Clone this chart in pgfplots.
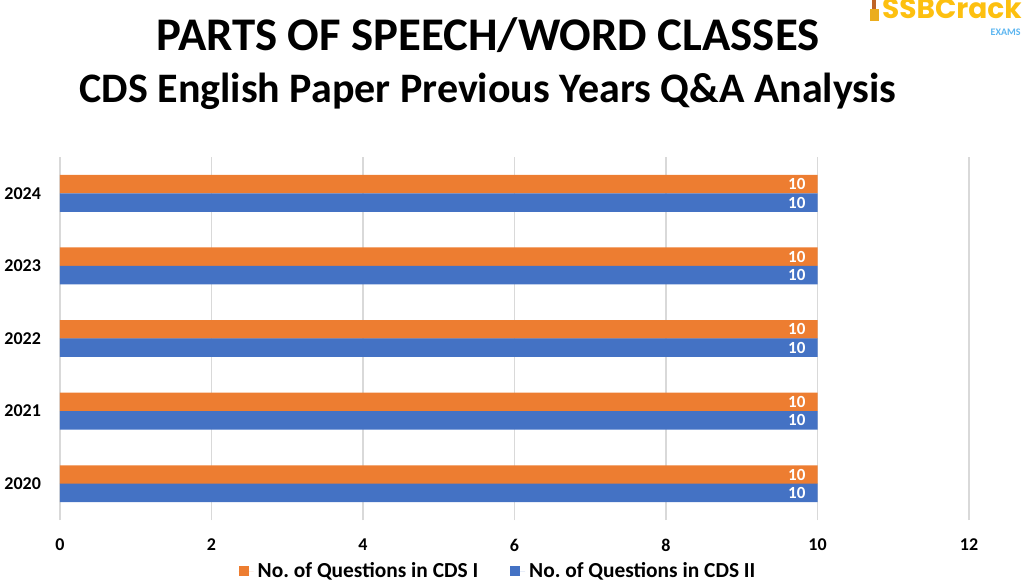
\documentclass[border=0pt]{standalone}
\usepackage{pgfplots}
\pgfplotsset{compat=1.18}
\usepackage{fontspec}
\setmainfont{Carlito}
\newfontfamily\logofont{Poppins}
\definecolor{cdsone}{HTML}{ED7D31}
\definecolor{cdstwo}{HTML}{4472C4}
\definecolor{gridgray}{HTML}{D9D9D9}
\definecolor{logogold}{HTML}{FDC010}
\definecolor{logoblue}{HTML}{5BB5F0}
\begin{document}
\begin{tikzpicture}
\useasboundingbox (0,0) rectangle (512pt,292.5pt);
\node[font=\bfseries\fontsize{23.4}{28}\selectfont] at (244pt,275pt) {PARTS OF SPEECH/WORD CLASSES};
\node[font=\bfseries\fontsize{21}{26}\selectfont] at (244pt,247pt) {CDS English Paper Previous Years Q\&A Analysis};
\node[font=\logofont\bfseries\fontsize{14}{16}\selectfont, text=logogold, anchor=north east, inner sep=0pt, text depth=0pt] at (511pt,294pt) {SSBCrack};
\node[font=\bfseries\fontsize{5}{6}\selectfont, text=logoblue, anchor=north east, inner sep=0pt] at (510.5pt,278.3pt) {EXAMS};
\fill[cdsone!80!black] (436pt,288pt) rectangle (438pt,292.5pt);
\fill[logogold!70!brown] (435pt,282pt) rectangle (439.5pt,288pt);
\begin{axis}[
  at={(30pt,32.5pt)}, anchor=south west,
  scale only axis, width=454.5pt, height=181.5pt,
  xbar, bar width=9.25pt,
  xmin=0, xmax=12, ymin=-0.5, ymax=4.5,
  xtick={0,2,...,12},
  ytick={0,1,2,3,4},
  yticklabels={2020,2021,2022,2023,2024},
  xmajorgrids, ymajorgrids=false,
  grid style={color=gridgray, line width=0.6pt},
  axis line style={draw=none},
  major tick length=0pt,
  /pgf/number format/assume math mode=true,
  ticklabel style={font=\bfseries\fontsize{9}{11}\selectfont},
  xticklabel style={yshift=-6pt},
  yticklabel style={xshift=-6pt},
  nodes near coords,
  every node near coord/.append style={anchor=east, xshift=-2.5pt, text=white, font=\bfseries\fontsize{8.5}{10}\selectfont},
  legend style={at={(0.483,-0.143)}, anchor=center, draw=none, fill=none,
    font=\bfseries\fontsize{10.7}{12}\selectfont,
    /tikz/every even column/.append style={column sep=14pt}},
  legend columns=2,
  legend image code/.code={\fill[#1] (0pt,-2pt) rectangle (5pt,3pt); \path (0pt,0pt) -- (7.5pt,0pt);},
]
\addplot[fill=cdsone, draw=none, bar shift=4.6pt] coordinates {(10,0) (10,1) (10,2) (10,3) (10,4)};
\addplot[fill=cdstwo, draw=none, bar shift=-4.6pt] coordinates {(10,0) (10,1) (10,2) (10,3) (10,4)};
\legend{No.\ of Questions in CDS I, No.\ of Questions in CDS II}
\end{axis}
\end{tikzpicture}
\end{document}
